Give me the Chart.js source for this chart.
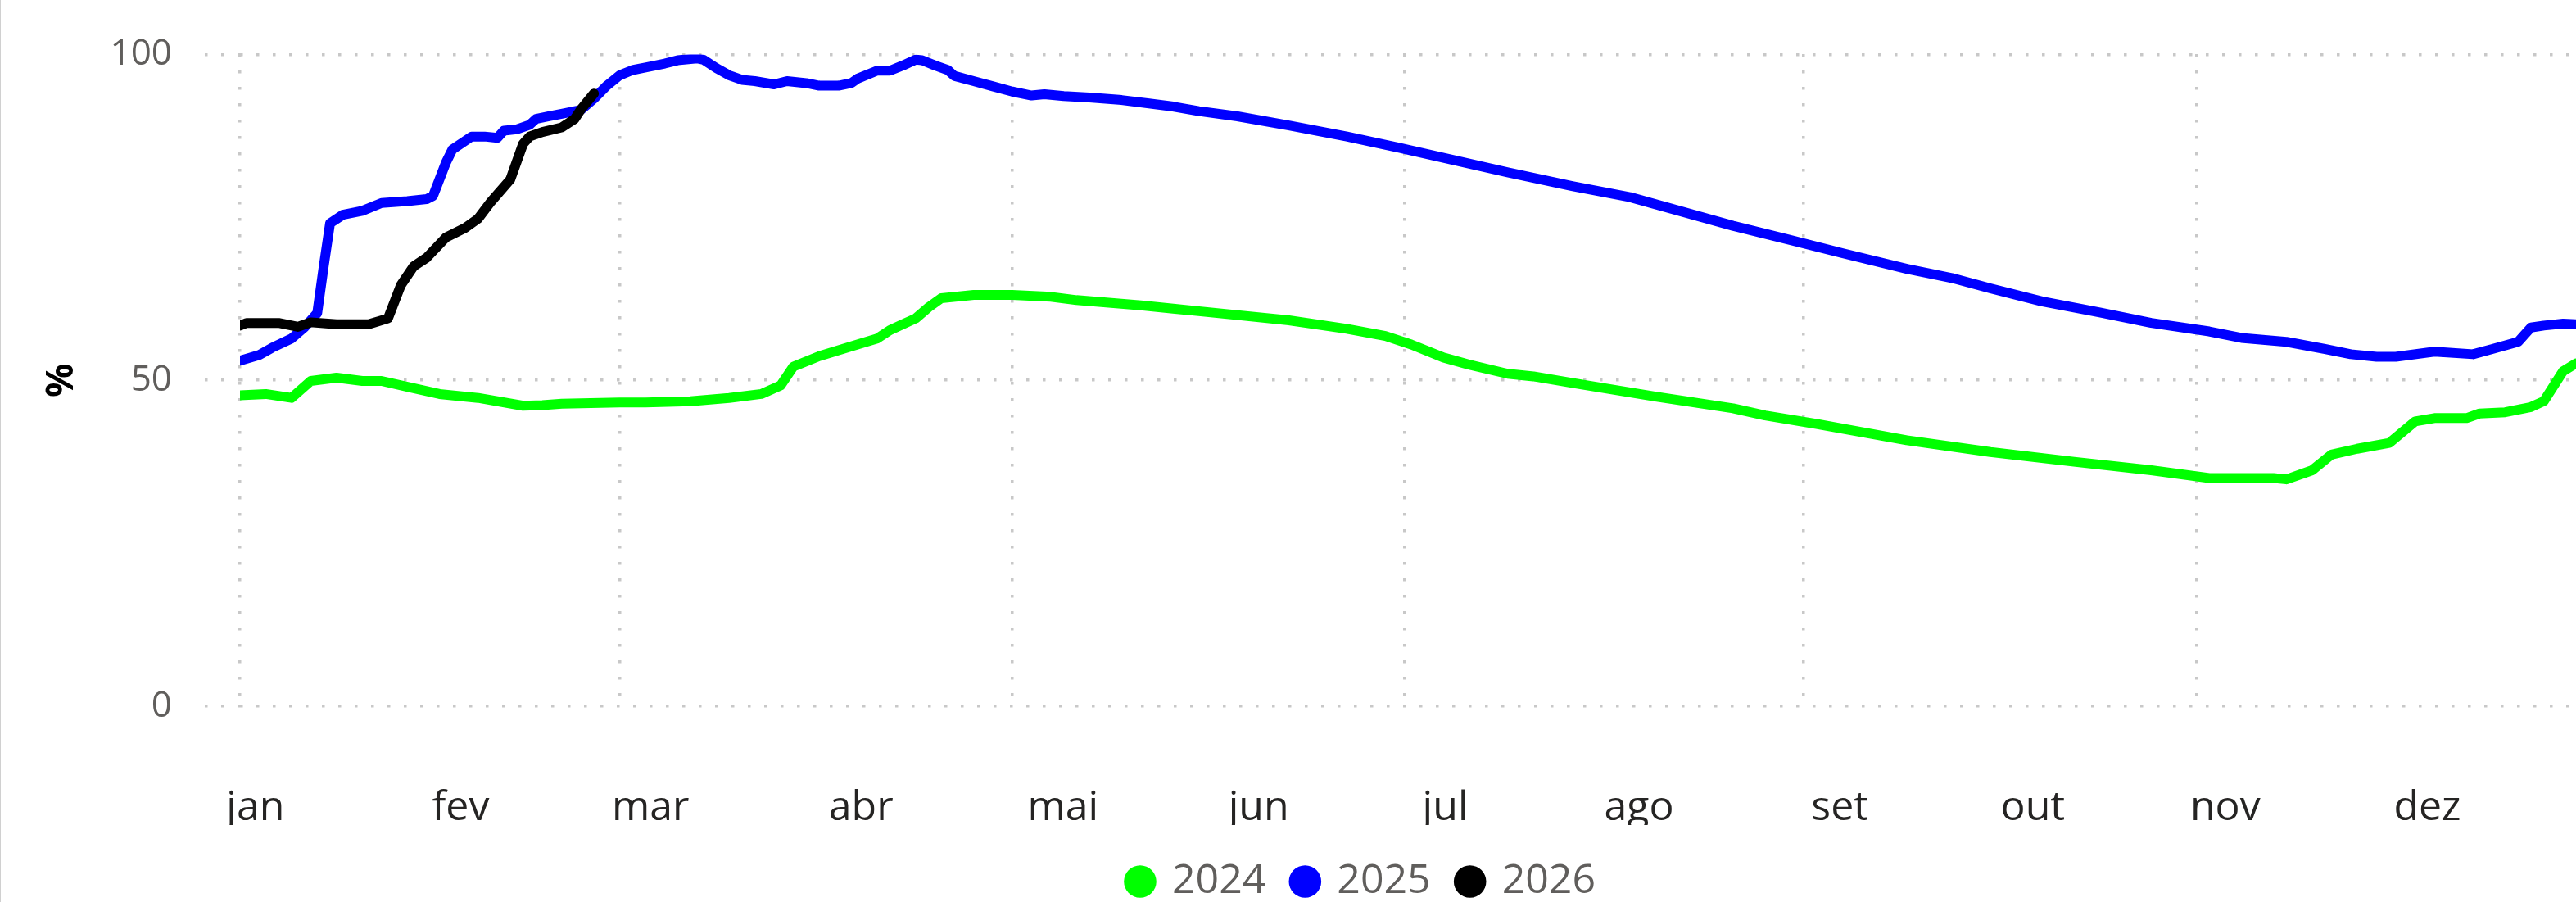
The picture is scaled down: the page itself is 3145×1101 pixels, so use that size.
<!DOCTYPE html>
<html>
<head>
<meta charset="utf-8">
<title>%</title>
<script src="https://cdn.jsdelivr.net/npm/chart.js@4.4.1/dist/chart.umd.min.js"></script>
<style>
  html, body { margin: 0; padding: 0; background: #fff; }
  #wrap { position: relative; width: 3145px; height: 1101px; box-sizing: border-box; border-left: 1px solid #d0d0d0; }
</style>
</head>
<body>
<div id="wrap"><canvas id="chart"></canvas></div>
<script>
// axis labels / ticks
var monthLabels = ['jan', 'fev', 'mar', 'abr', 'mai', 'jun', 'jul', 'ago', 'set', 'out', 'nov', 'dez'];
var monthLabelDays = [2.4, 34.3, 63.8, 96.5, 127.9, 158.3, 187.3, 217.4, 248.6, 278.6, 308.5, 339.9];
var gridDays = [0, 59, 120, 181, 243, 304]; // 1 jan, 1 mar, 1 mai, 1 jul, 1 set, 1 nov
var yTicks = [0, 50, 100];

// 2024 (day of year -> %)
var days2024 = [0, 4, 8, 11, 15, 19, 22, 26, 31, 37, 44, 47, 50, 59, 63, 70, 76, 81, 84, 86,
    90, 95, 99, 101, 103, 105, 107, 109, 114, 120, 126, 130, 135, 140, 145, 149, 155, 163, 172, 178,
    182, 187, 191, 197, 201, 207, 220, 232, 237, 245, 259, 272, 285, 297, 306, 311, 316, 318, 322, 325,
    329, 334, 338, 341, 346, 348, 352, 356, 358, 361, 363];
var values2024 = [47.7, 47.9, 47.3, 49.9, 50.4, 49.9, 49.9, 49.0, 47.9, 47.3, 46.1, 46.2, 46.4, 46.6, 46.6, 46.8, 47.3, 47.9, 49.2, 52.1,
    53.7, 55.2, 56.4, 57.7, 58.6, 59.5, 61.2, 62.6, 63.1, 63.1, 62.8, 62.3, 61.9, 61.5, 61.0, 60.6, 60.0, 59.2, 57.9, 56.8,
    55.5, 53.5, 52.4, 51.0, 50.6, 49.6, 47.5, 45.7, 44.6, 43.3, 40.8, 39.0, 37.5, 36.2, 35.0, 35.0, 35.0, 34.8, 36.2, 38.6,
    39.5, 40.4, 43.7, 44.2, 44.2, 44.9, 45.1, 45.9, 46.8, 51.4, 52.6];

// 2025
var days2025 = [0, 3, 5, 8, 10, 12, 13, 14, 16, 19, 22, 26, 29, 30, 32, 33, 36, 38, 40, 41,
    43, 45, 46, 48, 50, 53, 55, 57, 59, 61, 63, 66, 68, 71, 72, 74, 76, 78, 80, 83,
    85, 88, 90, 93, 95, 96, 99, 101, 103, 105, 106, 108, 110, 111, 114, 117, 120, 123, 125, 128,
    132, 137, 141, 145, 149, 155, 163, 172, 180, 189, 197, 207, 216, 224, 232, 241, 249, 259, 266, 272,
    280, 289, 297, 306, 311, 318, 324, 328, 332, 335, 341, 347, 350, 354, 356, 358, 361, 363];
var values2025 = [53.0, 53.9, 55.0, 56.4, 58.1, 60.3, 67.4, 74.1, 75.4, 76.0, 77.2, 77.5, 77.8, 78.3, 83.4, 85.4, 87.4, 87.4, 87.2, 88.3,
    88.5, 89.2, 90.1, 90.5, 90.9, 91.5, 93.2, 95.2, 96.8, 97.6, 98.0, 98.6, 99.1, 99.4, 99.2, 97.9, 96.8, 96.1, 95.9, 95.4,
    95.9, 95.6, 95.2, 95.2, 95.6, 96.3, 97.5, 97.5, 98.3, 99.2, 99.1, 98.3, 97.6, 96.7, 95.9, 95.1, 94.3, 93.7, 93.9, 93.6,
    93.4, 93.0, 92.5, 92.0, 91.3, 90.5, 89.1, 87.4, 85.7, 83.7, 81.9, 79.8, 78.1, 75.9, 73.7, 71.5, 69.5, 67.1, 65.7, 64.1,
    62.1, 60.4, 58.8, 57.5, 56.5, 55.9, 54.8, 54.0, 53.6, 53.6, 54.4, 54.0, 54.8, 55.9, 58.1, 58.4, 58.7, 58.6];

// 2026
var days2026 = [0, 1, 6, 9, 11, 15, 20, 23, 25, 27, 29, 32, 35, 37, 39, 42, 44, 45, 47, 50, 52, 53, 55];
var values2026 = [58.4, 58.8, 58.8, 58.2, 58.9, 58.6, 58.6, 59.5, 64.6, 67.5, 68.8, 71.9, 73.4, 74.8, 77.4, 80.8, 86.3, 87.4, 88.1, 88.8, 90.1, 91.6, 94.0];

var LEGEND_OFFSET = { x: 90, y: 10 };
var LINE_WIDTH = 12;

function toPoints(days, values) {
    return days.map(function (d, i) { return { x: d, y: values[i] }; });
}

// dotted grid: small grey dots every 20px
var gridStyle = { color: '#c8c8c8', lineWidth: 3.5 };
var dottedBorder = { display: false, dash: [3.5, 16.5] };

// move the legend block where the report has it
var legendShift = {
    id: 'legendShift',
    afterLayout: function (chart) {
        var lg = chart.legend;
        lg.left += LEGEND_OFFSET.x;
        lg.right += LEGEND_OFFSET.x;
        lg.top += LEGEND_OFFSET.y;
        lg.bottom += LEGEND_OFFSET.y;
    }
};

Chart.defaults.font.family = "'Segoe UI', 'Open Sans', sans-serif";

new Chart(document.getElementById('chart'), {
    type: 'line',
    data: {
        datasets: [
            { label: '2024', data: toPoints(days2024, values2024), borderColor: '#00FF00', backgroundColor: '#00FF00', borderWidth: LINE_WIDTH, order: 2 },
            { label: '2025', data: toPoints(days2025, values2025), borderColor: '#0000FF', backgroundColor: '#0000FF', borderWidth: LINE_WIDTH, order: 1 },
            { label: '2026', data: toPoints(days2026, values2026), borderColor: '#000000', backgroundColor: '#000000', borderWidth: LINE_WIDTH, order: 0 }
        ]
    },
    options: {
        responsive: true,
        maintainAspectRatio: false,
        animation: false,
        layout: { padding: { top: 57, right: 0, bottom: 0, left: 0 } },
        elements: {
            point: { radius: 0 },
            line: { tension: 0, borderCapStyle: 'round', borderJoinStyle: 'round' }
        },
        scales: {
            x: {
                type: 'linear', min: 0, max: 363, position: 'bottom',
                grid: { display: false, drawTicks: false },
                border: { display: false },
                afterBuildTicks: function (s) { s.ticks = monthLabelDays.map(function (v) { return { value: v }; }); },
                afterFit: function (s) { s.height = 145; },
                ticks: {
                    autoSkip: false, maxRotation: 0, padding: 95,
                    color: '#252423', font: { size: 50 },
                    callback: function (v, i) { return monthLabels[i]; }
                }
            },
            xg: {
                type: 'linear', min: 0, max: 363, position: 'top',
                border: dottedBorder,
                grid: Object.assign({}, gridStyle, { drawTicks: false }),
                ticks: { display: false },
                afterBuildTicks: function (s) { s.ticks = gridDays.map(function (v) { return { value: v }; }); },
                afterFit: function (s) { s.height = 0; }
            },
            y: {
                min: 0, max: 100,
                border: dottedBorder,
                afterBuildTicks: function (s) { s.ticks = yTicks.map(function (v) { return { value: v }; }); },
                afterFit: function (s) { s.width = 292; },
                grid: Object.assign({}, gridStyle, { tickLength: 43, tickColor: '#c8c8c8', tickWidth: 3.5, tickBorderDash: [3.5, 16.5] }),
                ticks: { padding: 40, color: '#605E5C', font: { size: 44 } },
                title: { display: true, text: '%', color: '#000000', font: { size: 46, weight: 'bold' }, padding: { top: 47, bottom: 0 } }
            }
        },
        plugins: {
            tooltip: { enabled: false },
            legend: {
                position: 'bottom',
                labels: {
                    usePointStyle: true, pointStyle: 'circle',
                    boxWidth: 28, boxHeight: 28, padding: 34,
                    color: '#605E5C', font: { size: 50 },
                    sort: function (a, b) { return a.datasetIndex - b.datasetIndex; },
                    generateLabels: function (chart) {
                        return Chart.defaults.plugins.legend.labels.generateLabels(chart).map(function (l) {
                            l.lineWidth = 0;
                            return l;
                        });
                    }
                }
            }
        }
    },
    plugins: [legendShift]
});
</script>
</body>
</html>
